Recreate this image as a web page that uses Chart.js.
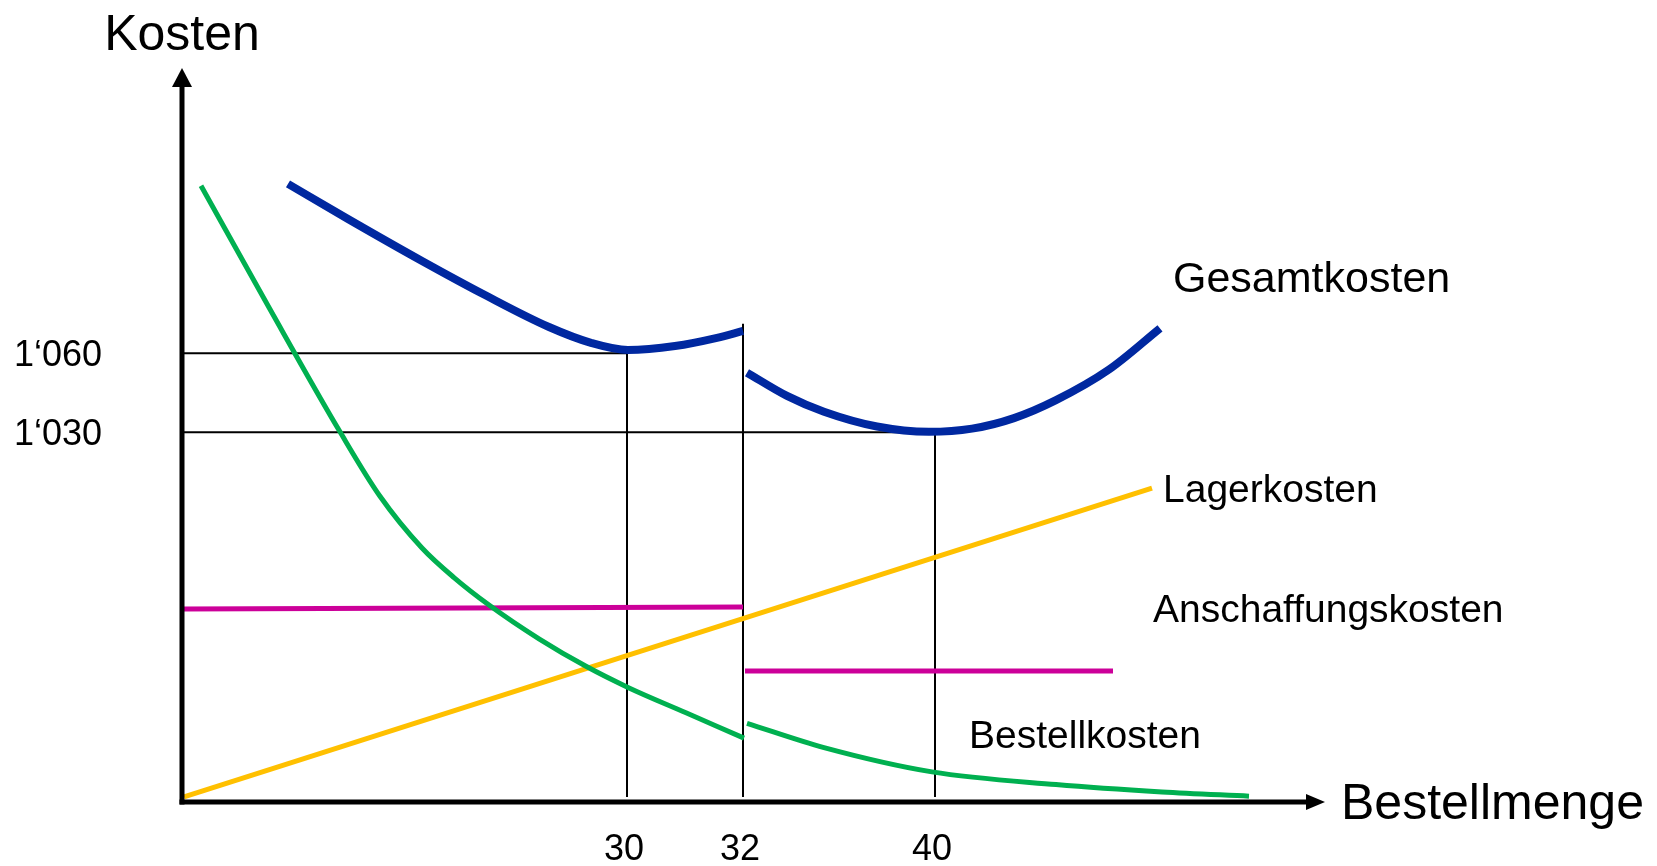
<!DOCTYPE html>
<html>
<head>
<meta charset="utf-8">
<script src="https://cdn.jsdelivr.net/npm/chart.js@4.4.1/dist/chart.umd.min.js"></script>
<style>
  html, body { margin: 0; padding: 0; background: #fff; }
  #wrap { width: 1657px; height: 866px; position: relative; }
</style>
</head>
<body>
<div id="wrap"><canvas id="chart"></canvas></div>
<script>
// Achsen (schematisch: x ist Position, nicht massstabsgetreu)
const xTickPos = [44.5, 56.1, 75.3];
const xTickLabels = ['30', '32', '40'];
const yTickValues = [1030, 1060];
const yTickLabels = ['1‘030', '1‘060'];

// Gesamtkosten (zwei Abschnitte, Sprung bei 32)
const gesamtX1 = [10.6, 16.6, 24.0, 30.3, 36.7, 40.9, 44.6, 49.3, 53.5, 56.1];
const gesamtY1 = [1124.1, 1110.8, 1094.9, 1082.0, 1069.9, 1063.9, 1061.2, 1062.7, 1065.8, 1068.4];
const gesamtX2 = [56.5, 60.5, 64.2, 69.5, 74.7, 79.0, 83.2, 87.4, 92.7, 97.8];
const gesamtY2 = [1052.6, 1043.8, 1037.8, 1032.2, 1030.2, 1031.4, 1035.4, 1042.2, 1053.8, 1069.4];

// Bestellkosten
const bestellX1 = [1.9, 8.8, 15.8, 19.8, 24.0, 27.2, 30.7, 35.7, 40.4, 44.6, 50.4, 56.2];
const bestellY1 = [1123.4, 1076.6, 1030.2, 1005.8, 986.2, 975.0, 964.6, 951.8, 941.4, 933.4, 923.8, 914.2];
const bestellX2 = [56.5, 64.2, 75.0, 87.4, 98.0, 106.7];
const bestellY2 = [919.8, 910.6, 901.4, 896.6, 893.8, 892.2];

// Lagerkosten
const lagerX = [0.2, 97.0];
const lagerY = [891.9, 1008.9];

// Anschaffungskosten
const anschX1 = [0.2, 56.1];
const anschY1 = [963.1, 963.9];
const anschX2 = [56.3, 93.1];
const anschY2 = [939.6, 939.6];

// Hilfslinien
const hilfe1060X = [0, 44.5], hilfe1060Y = [1060, 1060];
const hilfe1030X = [0, 75.3], hilfe1030Y = [1030, 1030];
const hilfe30X = [44.5, 44.5], hilfe30Y = [1060, 891.9];
const hilfe32X = [56.1, 56.1], hilfe32Y = [1071.1, 891.9];
const hilfe40X = [75.3, 75.3], hilfe40Y = [1030, 891.9];

const FONT = "'Liberation Sans', Arial, sans-serif";

function pts(xs, ys) {
    return xs.map((x, i) => ({ x: x, y: ys[i] }));
}

function kurve(label, xs, ys, color, width, order) {
    return {
        label: label,
        data: pts(xs, ys),
        showLine: true,
        borderColor: color,
        backgroundColor: color,
        borderWidth: width,
        pointRadius: 0,
        cubicInterpolationMode: 'monotone',
        borderCapStyle: 'butt',
        clip: false,
        order: order
    };
}

// Achsen, Pfeile, Tick-Beschriftungen und Kurvennamen
const beschriftung = {
    id: 'beschriftung',
    afterDatasetsDraw(chart) {
        const { ctx, chartArea: a, scales } = chart;
        const xs = scales.x, ys = scales.y;
        ctx.save();
        ctx.fillStyle = '#000';
        ctx.strokeStyle = '#000';
        ctx.lineWidth = 5;
        // y-Achse
        ctx.beginPath();
        ctx.moveTo(a.left, a.bottom + 2.5);
        ctx.lineTo(a.left, a.top + 16);
        ctx.stroke();
        ctx.beginPath();
        ctx.moveTo(a.left, a.top);
        ctx.lineTo(a.left - 10, a.top + 19);
        ctx.lineTo(a.left + 10, a.top + 19);
        ctx.closePath();
        ctx.fill();
        // x-Achse
        ctx.beginPath();
        ctx.moveTo(a.left - 2.5, a.bottom);
        ctx.lineTo(a.right - 16, a.bottom);
        ctx.stroke();
        ctx.beginPath();
        ctx.moveTo(a.right, a.bottom);
        ctx.lineTo(a.right - 19, a.bottom - 8);
        ctx.lineTo(a.right - 19, a.bottom + 8);
        ctx.closePath();
        ctx.fill();

        // Tick-Beschriftungen
        ctx.font = '36px ' + FONT;
        ctx.textAlign = 'right';
        ctx.textBaseline = 'alphabetic';
        yTickValues.forEach((v, i) => {
            ctx.fillText(yTickLabels[i], a.left - 80, ys.getPixelForValue(v) + 13);
        });
        ctx.textAlign = 'center';
        xTickPos.forEach((v, i) => {
            ctx.fillText(xTickLabels[i], xs.getPixelForValue(v) - 3, a.bottom + 58);
        });

        // Achsentitel
        ctx.font = '50px ' + FONT;
        ctx.textAlign = 'center';
        ctx.fillText('Kosten', a.left, 50);
        ctx.textAlign = 'left';
        ctx.fillText('Bestellmenge', a.right + 16, a.bottom + 17);

        // Kurvennamen
        ctx.font = '43px ' + FONT;
        ctx.fillText('Gesamtkosten', xs.getPixelForValue(99.1), ys.getPixelForValue(1083.2));
        ctx.font = '39px ' + FONT;
        ctx.fillText('Lagerkosten', xs.getPixelForValue(98.1), ys.getPixelForValue(1003.6));
        ctx.fillText('Anschaffungskosten', xs.getPixelForValue(97.1), ys.getPixelForValue(958.2));
        ctx.fillText('Bestellkosten', xs.getPixelForValue(78.7), ys.getPixelForValue(910.5));
        ctx.restore();
    }
};

const config = {
    type: 'scatter',
    data: {
        datasets: [
            kurve('Gesamtkosten', gesamtX1, gesamtY1, '#0028A0', 8, 1),
            kurve('Gesamtkosten', gesamtX2, gesamtY2, '#0028A0', 8, 1),
            kurve('Bestellkosten', bestellX1, bestellY1, '#00B050', 5, 2),
            kurve('Bestellkosten', bestellX2, bestellY2, '#00B050', 5, 2),
            kurve('Lagerkosten', lagerX, lagerY, '#FFC000', 5, 3),
            kurve('Anschaffungskosten', anschX1, anschY1, '#CC0099', 5, 4),
            kurve('Anschaffungskosten', anschX2, anschY2, '#CC0099', 5, 4),
            kurve('', hilfe1060X, hilfe1060Y, '#000', 2, 10),
            kurve('', hilfe1030X, hilfe1030Y, '#000', 2, 10),
            kurve('', hilfe30X, hilfe30Y, '#000', 2, 10),
            kurve('', hilfe32X, hilfe32Y, '#000', 2, 10),
            kurve('', hilfe40X, hilfe40Y, '#000', 2, 10)
        ]
    },
    options: {
        responsive: true,
        maintainAspectRatio: false,
        animation: false,
        layout: { padding: { left: 182, top: 68, right: 332, bottom: 64 } },
        plugins: {
            legend: { display: false },
            tooltip: { enabled: false },
            title: { display: false }
        },
        scales: {
            x: { type: 'linear', min: 0, max: 114.3, display: false },
            y: { type: 'linear', min: 890, max: 1168, display: false }
        }
    },
    plugins: [beschriftung]
};

new Chart(document.getElementById('chart').getContext('2d'), config);
</script>
</body>
</html>
